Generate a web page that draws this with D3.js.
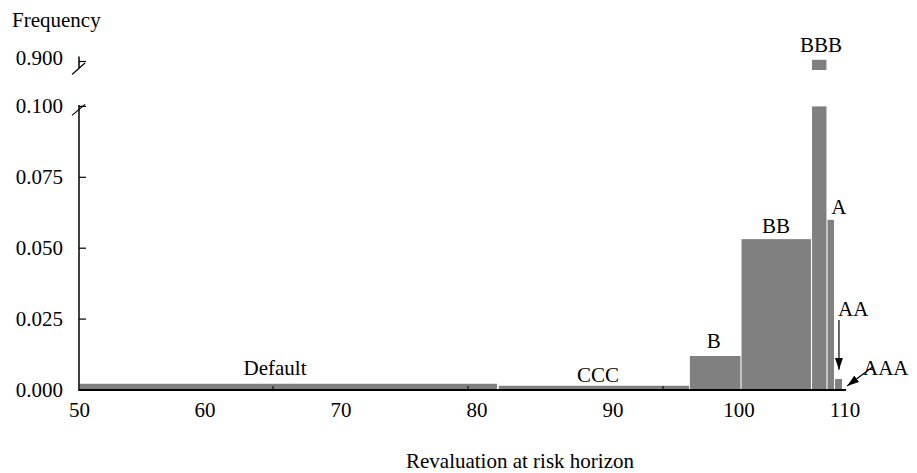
<!DOCTYPE html>
<html><head><meta charset="utf-8">
<script src="https://cdn.jsdelivr.net/npm/d3@7"></script>
<style>
body{margin:0;background:#fff}
svg{display:block}
text{font-family:"Liberation Serif","Times New Roman",serif;font-size:21px;fill:#000}
</style>
</head><body>
<svg id="chart" width="917" height="473"></svg>
<script>
// ---- data ----
const ratings   = ["Default", "CCC", "B", "BB", "BBB", "A", "AA", "AAA"];
const binStart  = [50, 81.6, 96.1, 100.24, 106.89, 108.35, 109.06, 109.76];
const binEnd    = [81.47, 96.03, 100.14, 106.79, 108.25, 108.96, 109.72, 110.05];
const frequency = [0.0022, 0.0015, 0.012, 0.0532, 0.903, 0.060, 0.0039, 0.0002];

const xTickValues  = [50, 60, 70, 80, 90, 100, 110];
const xMinorTicks  = [65.0, 79.34, 93.97];
const yTickValues  = [0, 0.025, 0.05, 0.075, 0.1];
const yTickLabels  = ["0.000", "0.025", "0.050", "0.075", "0.100"];
const yTopTickValues = [0.9];
const yTopTickLabels = ["0.900"];

// annotation anchors in data units
const labelText  = ["Default", "CCC", "B", "BB", "A", "AA", "AAA"];
const labelXVal  = [65.15, 88.9, 98.0, 103.5, 109.43, 109.34, 111.7];
const labelYVal  = [0.0053, 0.0028, 0.0148, 0.0554, 0.0621, 0.0261, 0.0053];
const labelAnchor= ["middle","middle","middle","middle","middle","start","start"];
const bbbLabel = {text: "BBB", x: 107.74, yTop: 0.9168};
const arrowFromX = [109.43, 112.6], arrowFromY = [0.0247, 0.0081];
const arrowToX   = [109.43, 110.2], arrowToY   = [0.0071, 0.0014];

const svg = d3.select("#chart");

// ---- scales ----
const x = d3.scaleLinear().domain(xTickValues).range([79.5, 205, 341, 477, 613, 739, 845]);
const y = d3.scaleLinear().domain([0, 0.1]).range([390, 106.4]);
const yTop = d3.scaleLinear().domain([0.885, 0.9]).range([70, 61.5]);
const yMax = 0.1;

const bars = ratings.map((r, i) => ({r, x0: binStart[i], x1: binEnd[i], v: frequency[i]}));

// ---- bars ----
svg.append("g").selectAll("rect.low").data(bars).join("rect")
  .attr("class", "low")
  .attr("x", d => x(d.x0))
  .attr("width", d => x(d.x1) - x(d.x0))
  .attr("y", d => y(Math.min(d.v, yMax)))
  .attr("height", d => y(0) - y(Math.min(d.v, yMax)))
  .attr("fill", "#808080");

svg.append("g").selectAll("rect.high").data(bars.filter(d => d.v > yMax)).join("rect")
  .attr("class", "high")
  .attr("x", d => x(d.x0))
  .attr("width", d => x(d.x1) - x(d.x0))
  .attr("y", d => yTop(d.v))
  .attr("height", d => yTop.range()[0] - yTop(d.v))
  .attr("fill", "#808080");

// ---- x axis ----
const gx = svg.append("g");
gx.append("line")
  .attr("x1", x(50) - 0.5).attr("x2", x(110.1))
  .attr("y1", y(0)).attr("y2", y(0))
  .attr("stroke", "#000").attr("stroke-width", 2);
gx.selectAll("line.minor").data(xMinorTicks).join("line")
  .attr("class", "minor")
  .attr("x1", d => x(d)).attr("x2", d => x(d))
  .attr("y1", y(0)).attr("y2", y(0) - 4)
  .attr("stroke", "#000").attr("stroke-width", 1);
gx.selectAll("text").data(xTickValues).join("text")
  .attr("x", d => x(d)).attr("y", y(0) + 27)
  .attr("text-anchor", "middle")
  .text(d => d);

// ---- y axis (broken) ----
const gy = svg.append("g");
const ax = x(50) - 0.5;
gy.append("line")
  .attr("x1", ax).attr("x2", ax)
  .attr("y1", y(0) + 1).attr("y2", y(yMax) - 1.5)
  .attr("stroke", "#000").attr("stroke-width", 1.5);
gy.selectAll("line.tick").data(yTickValues.slice(1)).join("line")
  .attr("class", "tick")
  .attr("x1", ax).attr("x2", ax + 7)
  .attr("y1", d => y(d)).attr("y2", d => y(d))
  .attr("stroke", "#000").attr("stroke-width", 1.2);
gy.selectAll("text.yl").data(yTickValues).join("text")
  .attr("class", "yl")
  .attr("x", ax - 16).attr("y", d => y(d) + 6.6)
  .attr("text-anchor", "end")
  .text((d, i) => yTickLabels[i]);
// break slash at top of lower segment
gy.append("line")
  .attr("x1", ax - 7).attr("y1", y(yMax) + 9)
  .attr("x2", ax + 6).attr("y2", y(yMax) - 2)
  .attr("stroke", "#000").attr("stroke-width", 1.2);

// upper segment
gy.append("line")
  .attr("x1", ax).attr("x2", ax)
  .attr("y1", yTop(0.9) - 5).attr("y2", yTop(0.885) - 2)
  .attr("stroke", "#000").attr("stroke-width", 1.5);
gy.selectAll("line.ttick").data(yTopTickValues).join("line")
  .attr("class", "ttick")
  .attr("x1", ax).attr("x2", ax + 7)
  .attr("y1", d => yTop(d)).attr("y2", d => yTop(d))
  .attr("stroke", "#000").attr("stroke-width", 1.2);
gy.selectAll("text.tl").data(yTopTickValues).join("text")
  .attr("class", "tl")
  .attr("x", ax - 16).attr("y", d => yTop(d) + 3.5)
  .attr("text-anchor", "end")
  .text((d, i) => yTopTickLabels[i]);
gy.append("line")
  .attr("x1", ax - 7).attr("y1", yTop(0.9) + 13)
  .attr("x2", ax + 6).attr("y2", yTop(0.9) + 1.5)
  .attr("stroke", "#000").attr("stroke-width", 1.2);

// ---- titles ----
svg.append("text").attr("x", 12).attr("y", 27).text("Frequency");
svg.append("text").attr("x", 520).attr("y", 468).attr("text-anchor", "middle")
  .text("Revaluation at risk horizon");

// ---- bar labels ----
svg.append("g").selectAll("text").data(labelText).join("text")
  .attr("x", (d, i) => x(labelXVal[i]))
  .attr("y", (d, i) => y(labelYVal[i]))
  .attr("text-anchor", (d, i) => labelAnchor[i])
  .text(d => d);
svg.append("text")
  .attr("x", x(bbbLabel.x)).attr("y", yTop(bbbLabel.yTop))
  .attr("text-anchor", "middle").text(bbbLabel.text);

// ---- arrows ----
svg.append("defs").append("marker")
  .attr("id", "arr").attr("viewBox", "0 0 12 8")
  .attr("refX", 12).attr("refY", 4)
  .attr("markerWidth", 12).attr("markerHeight", 8)
  .attr("markerUnits", "userSpaceOnUse")
  .attr("orient", "auto")
  .append("path").attr("d", "M0,0 L12,4 L0,8 z").attr("fill", "#000");
svg.append("g").selectAll("line").data(arrowFromX).join("line")
  .attr("x1", (d, i) => x(arrowFromX[i])).attr("y1", (d, i) => y(arrowFromY[i]))
  .attr("x2", (d, i) => x(arrowToX[i])).attr("y2", (d, i) => y(arrowToY[i]))
  .attr("stroke", "#000").attr("stroke-width", 1.2)
  .attr("marker-end", "url(#arr)");
</script>
</body></html>
